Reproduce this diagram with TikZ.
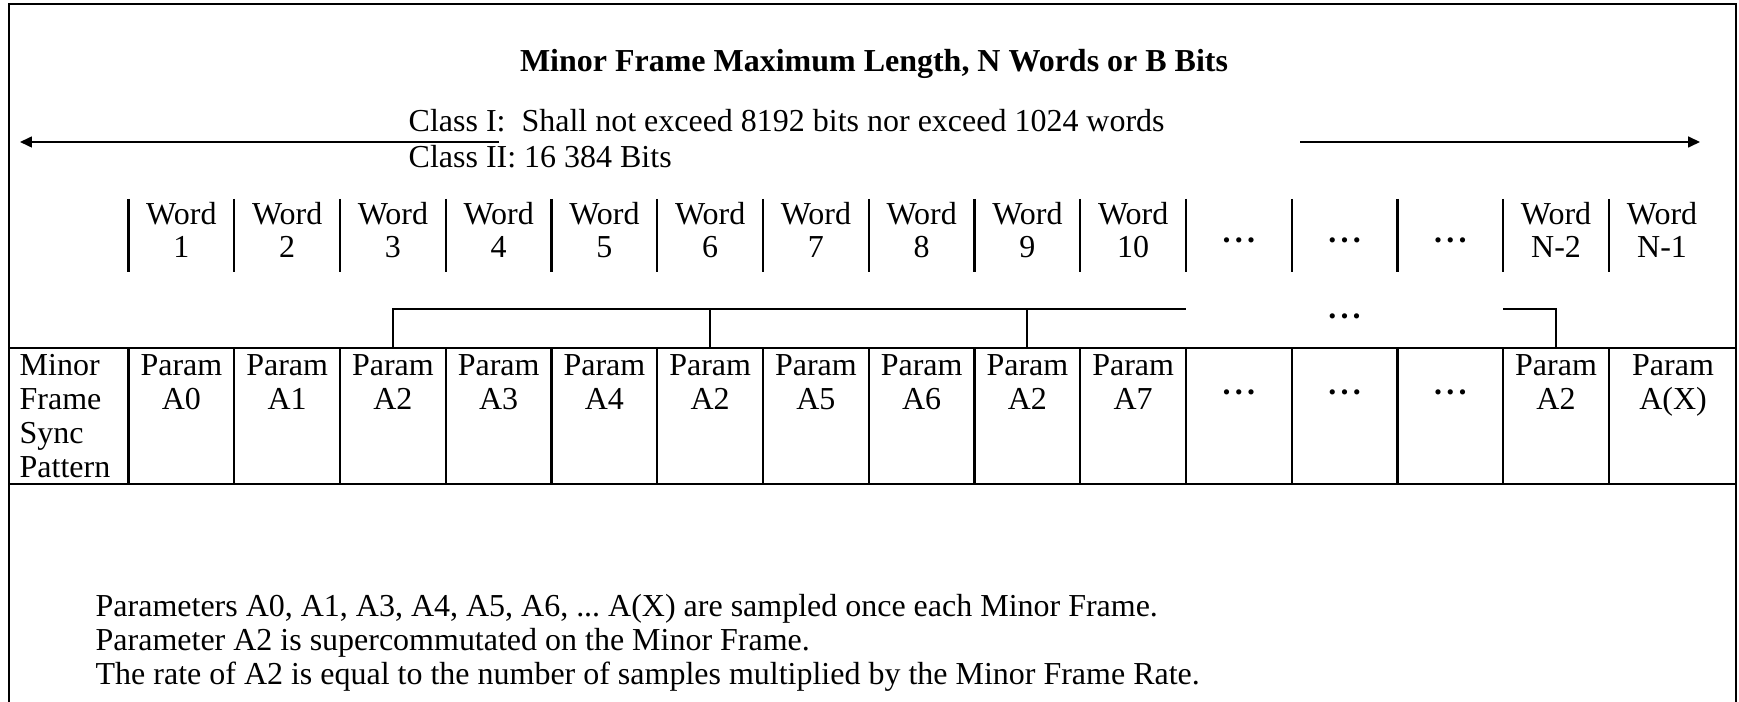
\documentclass[tikz,border=0pt]{standalone}
\usepackage{fontspec}
\setmainfont{Liberation Serif}
\usetikzlibrary{calc}
\usetikzlibrary{arrows.meta}

\newcommand{\gapdots}{\textbf{.\kern1.2pt.\kern1.2pt.}}

\tikzset{
    rule/.style = {line width = 0.6pt},
    txt/.style = {inner sep = 0pt, font = \fontsize{9.1}{10.2}\selectfont},
    lenarrow/.style = {line width = 0.5pt, -{Triangle[length = 3.4pt, width = 3.1pt]}},
}

\begin{document}
\begin{tikzpicture}
    \useasboundingbox (0, 0) rectangle (17.39, -7.02);
    % outer frame
    \draw [rule] (0.09, -7.02) -- (0.09, -0.04) -- (17.36, -0.04) -- (17.36, -7.02);

    % heading and length arrows
    \node [txt, font = \fontsize{9.1}{10.2}\selectfont\bfseries, anchor = base] (title) at (8.74, -0.72) {Minor Frame Maximum Length, N Words or B Bits};
    \node [txt, anchor = base west] (class1) at (4.08, -1.32) {Class I:\ \ Shall not exceed 8192 bits nor exceed 1024 words};
    \node [txt, anchor = base west] (class2) at (4.08, -1.68) {Class II: 16 384 Bits};
    \coordinate (leftend) at (4.99, -1.42);
    \coordinate (lefttip) at (0.20, -1.42);
    \coordinate (rightend) at (13.00, -1.42);
    \coordinate (righttip) at (17.00, -1.42);
    \draw [lenarrow] (leftend) -- (lefttip);
    \draw [lenarrow] (rightend) -- (righttip);

    % word row
    \foreach \i in {0, ..., 14}
        \draw [rule] ({1.285 + 1.0575*\i}, -1.99) -- ++(0, -0.73);
    \foreach \n in {1, ..., 10} {
        \node [txt, anchor = base] (word\n) at ({1.285 + 1.0575*(\n - 0.5)}, -2.25) {Word};
        \node [txt, anchor = base] (num\n) at ({1.285 + 1.0575*(\n - 0.5)}, -2.58) {\n};
    }
    \foreach \n in {11, 12, 13}
        \node [txt, anchor = base] (wdots\n) at ({1.285 + 1.0575*(\n - 0.5)}, -2.425) {\gapdots};
    \node [txt, anchor = base] (word14) at (15.56, -2.25) {Word};
    \node [txt, anchor = base] (num14) at (15.56, -2.58) {N-2};
    \node [txt, anchor = base] (word15) at (16.62, -2.25) {Word};
    \node [txt, anchor = base] (num15) at (16.62, -2.58) {N-1};

    % supercommutation bracket
    \coordinate (a2first) at (3.93, -3.48);
    \coordinate (a2second) at (7.10, -3.48);
    \coordinate (a2third) at (10.27, -3.48);
    \coordinate (a2last) at (15.56, -3.48);
    \coordinate (gapleft) at (11.86, -3.09);
    \coordinate (gapright) at (15.03, -3.09);
    \draw [rule] (a2first) |- (gapleft);
    \draw [rule] (a2second) -- (a2second |- gapleft);
    \draw [rule] (a2third) -- (a2third |- gapleft);
    \draw [rule] (gapright) -| (a2last);
    \node [txt, anchor = base] (bdots) at (13.445, -3.19) {\gapdots};

    % parameter row
    \draw [rule] (0.09, -3.48) -- (17.36, -3.48);
    \draw [rule] (0.09, -4.84) -- (17.36, -4.84);
    \foreach \i in {0, ..., 14}
        \draw [rule] ({1.285 + 1.0575*\i}, -3.48) -- ++(0, -1.36);
    \node [txt, anchor = base west] (sync1) at (0.19, -3.75) {Minor};
    \node [txt, anchor = base west] (sync2) at (0.19, -4.09) {Frame};
    \node [txt, anchor = base west] (sync3) at (0.19, -4.43) {Sync};
    \node [txt, anchor = base west] (sync4) at (0.19, -4.77) {Pattern};
    \foreach \p [count = \n] in {A0, A1, A2, A3, A4, A2, A5, A6, A2, A7} {
        \node [txt, anchor = base] (param\n) at ({1.285 + 1.0575*(\n - 0.5)}, -3.75) {Param};
        \node [txt, anchor = base] (pname\n) at ({1.285 + 1.0575*(\n - 0.5)}, -4.09) {\p};
    }
    \foreach \n in {11, 12, 13}
        \node [txt, anchor = base] (pdots\n) at ({1.285 + 1.0575*(\n - 0.5)}, -3.945) {\gapdots};
    \node [txt, anchor = base] (param14) at (15.56, -3.75) {Param};
    \node [txt, anchor = base] (pname14) at (15.56, -4.09) {A2};
    \node [txt, anchor = base] (param15) at (16.73, -3.75) {Param};
    \node [txt, anchor = base] (pname15) at (16.73, -4.09) {A(X)};

    % notes
    \node [txt, anchor = base west] (note1) at (0.95, -6.165) {Parameters A0, A1, A3, A4, A5, A6, ...\ A(X) are sampled once each Minor Frame.};
    \node [txt, anchor = base west] (note2) at (0.95, -6.505) {Parameter A2 is supercommutated on the Minor Frame.};
    \node [txt, anchor = base west] (note3) at (0.95, -6.845) {The rate of A2 is equal to the number of samples multiplied by the Minor Frame Rate.};
\end{tikzpicture}
\end{document}
